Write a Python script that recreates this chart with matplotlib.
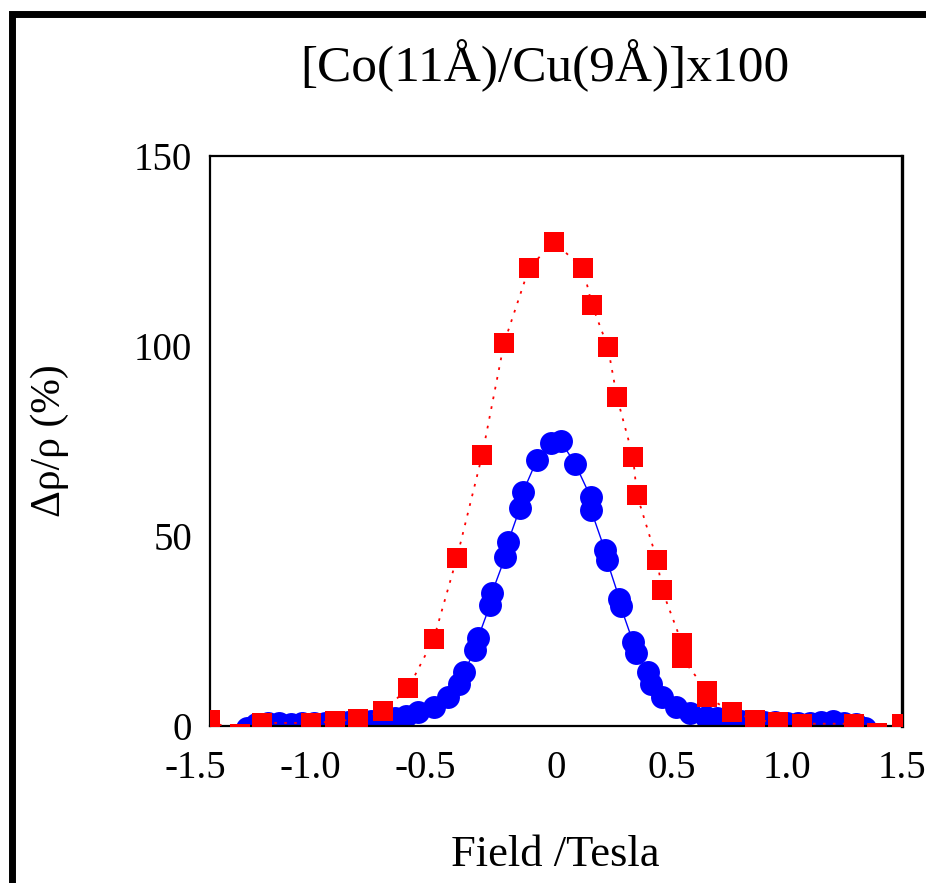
#!/usr/bin/env python3

from __future__ import annotations

from pathlib import Path

import matplotlib

matplotlib.use("Agg")
import matplotlib.pyplot as plt
from matplotlib.lines import Line2D
from matplotlib.transforms import ScaledTranslation

# Data (field in Tesla, MR in %)
field_red = [
    -1.50, -1.37, -1.275, -1.06, -0.96, -0.86, -0.75, -0.64, -0.53, -0.43,
    -0.32, -0.225, -0.117, -0.01, 0.117, 0.156, 0.225, 0.264, 0.334, 0.351,
    0.438, 0.46, 0.546, 0.546, 0.655, 0.655, 0.763, 0.864, 0.962, 1.067,
    1.29, 1.39, 1.50,
]
mr_red = [
    1.5, -2.0, 0.8, 0.8, 1.2, 1.8, 3.9, 10.0, 22.9, 44.2,
    71.3, 100.8, 120.5, 127.4, 120.5, 110.8, 99.7, 86.6, 70.8, 60.8,
    43.7, 35.8, 21.8, 17.9, 9.2, 7.6, 3.7, 1.6, 1.0, 0.6,
    0.6, -1.8, 0.6,
]

field_blue = [
    -1.34, -1.30, -1.25, -1.20, -1.15, -1.10, -1.05, -1.00, -0.95, -0.90,
    -0.85, -0.80, -0.75, -0.70, -0.65, -0.60, -0.53, -0.47, -0.42, -0.40,
    -0.35, -0.338, -0.286, -0.278, -0.22, -0.208, -0.156, -0.143, -0.083, -0.02,
    0.02, 0.083, 0.150, 0.152, 0.212, 0.22, 0.275, 0.28, 0.334, 0.345,
    0.40, 0.41, 0.46, 0.52, 0.58, 0.65, 0.70, 0.75, 0.80, 0.85,
    0.90, 0.95, 1.00, 1.05, 1.10, 1.15, 1.20, 1.25, 1.30, 1.34,
]
mr_blue = [
    -0.5, 0.5, 0.8, 0.8, 0.5, 0.8, 0.8, 0.9, 1.0, 1.0,
    1.2, 1.3, 1.5, 2.0, 2.6, 3.6, 5.0, 7.6, 11.0, 14.2,
    20.0, 23.2, 31.8, 35.0, 44.5, 48.4, 57.4, 61.6, 70.0, 74.5,
    75.0, 69.0, 60.3, 56.8, 46.3, 43.7, 33.5, 31.5, 22.1, 19.2,
    14.2, 11.0, 7.6, 5.0, 3.4, 2.4, 2.0, 1.6, 1.4, 1.2,
    1.0, 1.0, 0.9, 0.8, 0.8, 1.0, 1.3, 0.8, 0.5, -0.5,
]

x_ticks = [-1.5, -1.0, -0.5, 0.0, 0.5, 1.0, 1.5]
x_tick_labels = ["-1.5", "-1.0", "-0.5", "0", "0.5", "1.0", "1.5"]
y_ticks = [0, 50, 100, 150]
y_tick_labels = ["0", "50", "100", "150"]

TITLE = "[Co(11Å)/Cu(9Å)]x100"
X_LABEL = "Field /Tesla"
Y_LABEL = "Δρ/ρ (%)"


def plot_mr(out_path: Path) -> None:
    plt.rcParams["font.family"] = ["Liberation Serif", "DejaVu Serif"]

    fig = plt.figure(figsize=(9.26, 8.83), dpi=100)
    ax = fig.add_axes([210 / 926, 1 - 726 / 883, 692 / 926, 570 / 883])

    ax.plot(
        field_blue,
        mr_blue,
        color="#0000ff",
        linewidth=1.0,
        marker="o",
        markersize=16.5,
        markeredgewidth=0,
        zorder=2,
    )
    ax.plot(
        field_red,
        mr_red,
        color="#ff0000",
        linewidth=1.3,
        linestyle=(0, (1.5, 4)),
        marker="s",
        markersize=14.5,
        markeredgewidth=0,
        zorder=3,
    )

    ax.set_xlim(-1.5, 1.5)
    ax.set_ylim(0, 150)
    ax.set_xticks(x_ticks)
    ax.set_xticklabels(x_tick_labels)
    ax.set_yticks(y_ticks)
    ax.set_yticklabels(y_tick_labels)
    ax.tick_params(length=0, labelsize=28)
    ax.tick_params(axis="x", pad=17)
    ax.tick_params(axis="y", pad=13)
    for spine in ax.spines.values():
        spine.set_linewidth(1.6)
    ax.spines["right"].set_linewidth(2.4)

    # the minus signs hang to the left of the centred digits
    shift = ScaledTranslation(-0.15, 0, fig.dpi_scale_trans)
    for label in ax.get_xticklabels():
        if label.get_text().startswith("-"):
            label.set_transform(label.get_transform() + shift)

    fig.text(545 / 926, 1 - 66 / 883, TITLE, ha="center", va="center", fontsize=37)
    fig.text(555 / 926, 1 - 855 / 883, X_LABEL, ha="center", va="center", fontsize=32)
    fig.text(50 / 926, 1 - 441 / 883, Y_LABEL, ha="center", va="center",
             rotation=90, fontsize=30)

    # thick frame round the figure (left and top edges)
    fig.add_artist(
        Line2D(
            [12 / 926, 12 / 926, 1.0],
            [0.0, 1 - 14 / 883, 1 - 14 / 883],
            transform=fig.transFigure,
            color="black",
            linewidth=5,
            solid_joinstyle="miter",
        )
    )

    fig.savefig(out_path, dpi=100)
    plt.close(fig)


def main() -> None:
    plot_mr(Path("out.png"))


if __name__ == "__main__":
    main()
